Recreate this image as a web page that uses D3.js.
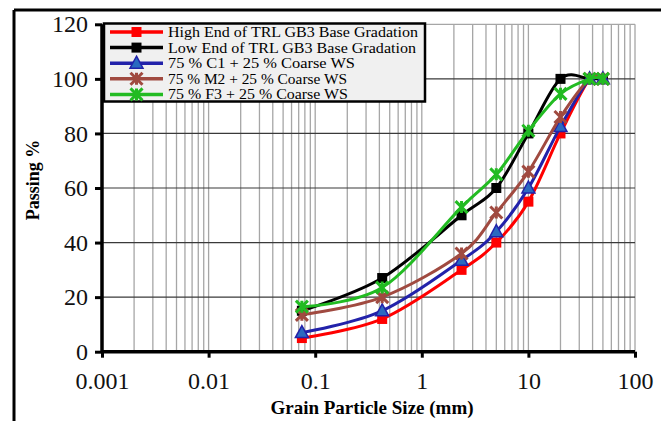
<!DOCTYPE html>
<html>
<head>
<script src="https://d3js.org/d3.v7.min.js"></script>
<style>
  body { margin: 0; background: #fff; }
  text { font-family: "Liberation Serif", "Times New Roman", serif; }
</style>
</head>
<body>
<div id="chart"></div>
<script>
// sieve sizes (mm)
const sizes = [0.075, 0.425, 2.36, 5, 10, 20, 37.5, 50];

const highEnd = [5, 12, 30, 40, 55, 80, 100, 100];
const lowEnd  = [15, 27, 50, 60, 80, 100, 100, 100];
const mixC1   = [7, 15, 33.5, 44, 60, 82.5, 100, 100];
const mixM2   = [13.5, 20, 36, 51, 66, 86, 100, 100];
const mixF3   = [16.5, 23.5, 53, 65, 81, 94.5, 100, 100];

const seriesNames = [
  "High End of TRL GB3 Base Gradation",
  "Low End of TRL GB3 Base Gradation",
  "75 % C1 + 25 % Coarse WS",
  "75 % M2 + 25 % Coarse WS",
  "75 % F3 + 25 % Coarse WS"
];

const xTicks = [0.001, 0.01, 0.1, 1, 10, 100];
const yTicks = [0, 20, 40, 60, 80, 100, 120];

const series = [
  { name: seriesNames[0], values: highEnd, color: "#ff0000", marker: "square" },
  { name: seriesNames[1], values: lowEnd,  color: "#000000", marker: "square" },
  { name: seriesNames[2], values: mixC1,   color: "#2222aa", marker: "triangle" },
  { name: seriesNames[3], values: mixM2,   color: "#a04a40", marker: "star" },
  { name: seriesNames[4], values: mixF3,   color: "#22bb22", marker: "star" }
];

const width = 661, height = 421;
const svg = d3.select("#chart").append("svg")
  .attr("width", width).attr("height", height);

const plotLeft = 102, plotRight = 635, plotTop = 24.3, plotBottom = 351.7;

const x = d3.scaleLog().domain([0.001, 100]).range([plotLeft, plotRight]);
const y = d3.scaleLinear().domain([0, 120]).range([plotBottom, plotTop]);

// outer frame (top and left only)
svg.append("line").attr("x1", 14).attr("x2", width).attr("y1", 10).attr("y2", 10)
  .attr("stroke", "#000").attr("stroke-width", 3);
svg.append("line").attr("x1", 14).attr("x2", 14).attr("y1", 10).attr("y2", height)
  .attr("stroke", "#000").attr("stroke-width", 3);

// vertical grid, every 1..9 in each decade
const minor = [];
for (let e = -3; e < 2; e++) {
  for (let m = 1; m <= 9; m++) minor.push(m * Math.pow(10, e));
}
minor.push(100);
svg.append("g").selectAll("line").data(minor).enter().append("line")
  .attr("x1", d => x(d)).attr("x2", d => x(d))
  .attr("y1", plotTop).attr("y2", plotBottom)
  .attr("stroke", "#a6a6a6").attr("stroke-width", 1.3);

// horizontal grid
svg.append("g").selectAll("line").data(yTicks.filter(d => d > 0)).enter().append("line")
  .attr("x1", plotLeft).attr("x2", plotRight)
  .attr("y1", d => y(d)).attr("y2", d => y(d))
  .attr("stroke", d => d === 120 ? "#a6a6a6" : "#3a3a3a").attr("stroke-width", 1.2);

// axes
const xAxis = d3.axisBottom(x).tickValues(xTicks).tickSize(6)
  .tickFormat(d => String(+d.toPrecision(1)));
const gx = svg.append("g").attr("transform", `translate(0,${plotBottom})`).call(xAxis);
gx.select(".domain").attr("stroke-width", 3.5).attr("d", `M${plotLeft},0H${plotRight}`);
gx.selectAll(".tick line").attr("stroke-width", 3);
gx.selectAll(".tick text").attr("font-size", 24).attr("dy", "1.2em")
  .attr("font-family", "Liberation Serif").attr("fill", "#111");

const yAxis = d3.axisLeft(y).tickValues(yTicks).tickSize(7);
const gy = svg.append("g").attr("transform", `translate(${plotLeft},0)`).call(yAxis);
gy.select(".domain").attr("stroke-width", 3.5).attr("d", `M0,${plotBottom}V${plotTop}`);
gy.selectAll(".tick line").attr("stroke-width", 3);
gy.selectAll(".tick text").attr("font-size", 24).attr("x", -14)
  .attr("font-family", "Liberation Serif").attr("fill", "#111");

// axis titles
svg.append("text").attr("x", 372).attr("y", 414).attr("text-anchor", "middle")
  .attr("font-size", 19).attr("font-weight", "bold").text("Grain Particle Size (mm)");
svg.append("text").attr("transform", "translate(39,180) rotate(-90)")
  .attr("text-anchor", "middle").attr("font-size", 18).attr("font-weight", "bold")
  .text("Passing %");

// marker drawing
function drawMarker(g, type, cx, cy, color) {
  if (type === "square") {
    g.append("rect").attr("x", cx - 5).attr("y", cy - 5).attr("width", 10).attr("height", 10)
      .attr("fill", color);
  } else if (type === "triangle") {
    g.append("path")
      .attr("d", `M${cx},${cy - 7}L${cx + 6.5},${cy + 5}L${cx - 6.5},${cy + 5}Z`)
      .attr("fill", "#2a6ac0").attr("stroke", color).attr("stroke-width", 1.5);
  } else {
    const r = 6;
    g.append("path")
      .attr("d", `M${cx - r},${cy - r}L${cx + r},${cy + r}M${cx - r},${cy + r}L${cx + r},${cy - r}M${cx},${cy - r}L${cx},${cy + r}`)
      .attr("stroke", color).attr("stroke-width", 3).attr("fill", "none");
  }
}

// Excel-style smoothed line
const line = d3.line().x(d => x(d[0])).y(d => y(d[1])).curve(d3.curveCardinal.tension(0));

series.forEach(s => {
  const pts = sizes.map((v, i) => [v, s.values[i]]);
  const g = svg.append("g");
  g.append("path").datum(pts).attr("d", line)
    .attr("fill", "none").attr("stroke", s.color).attr("stroke-width", 3);
  pts.forEach(p => drawMarker(g, s.marker, x(p[0]), y(p[1]), s.color));
});

// legend
const legend = svg.append("g");
legend.append("rect").attr("x", 104).attr("y", 23.5).attr("width", 321).attr("height", 78)
  .attr("fill", "#f0f0f0").attr("stroke", "#000").attr("stroke-width", 2.5);
const textLens = [250, 248, 187, 179, 180];
series.forEach((s, i) => {
  const ly = 32 + i * 15.6;
  legend.append("line").attr("x1", 110).attr("x2", 163).attr("y1", ly).attr("y2", ly)
    .attr("stroke", s.color).attr("stroke-width", 3.5);
  drawMarker(legend, s.marker, 136.5, ly, s.color);
  legend.append("text").attr("x", 168).attr("y", ly + 5).attr("font-size", 15)
    .attr("textLength", textLens[i]).attr("lengthAdjust", "spacingAndGlyphs")
    .text(s.name);
});
</script>
</body>
</html>
